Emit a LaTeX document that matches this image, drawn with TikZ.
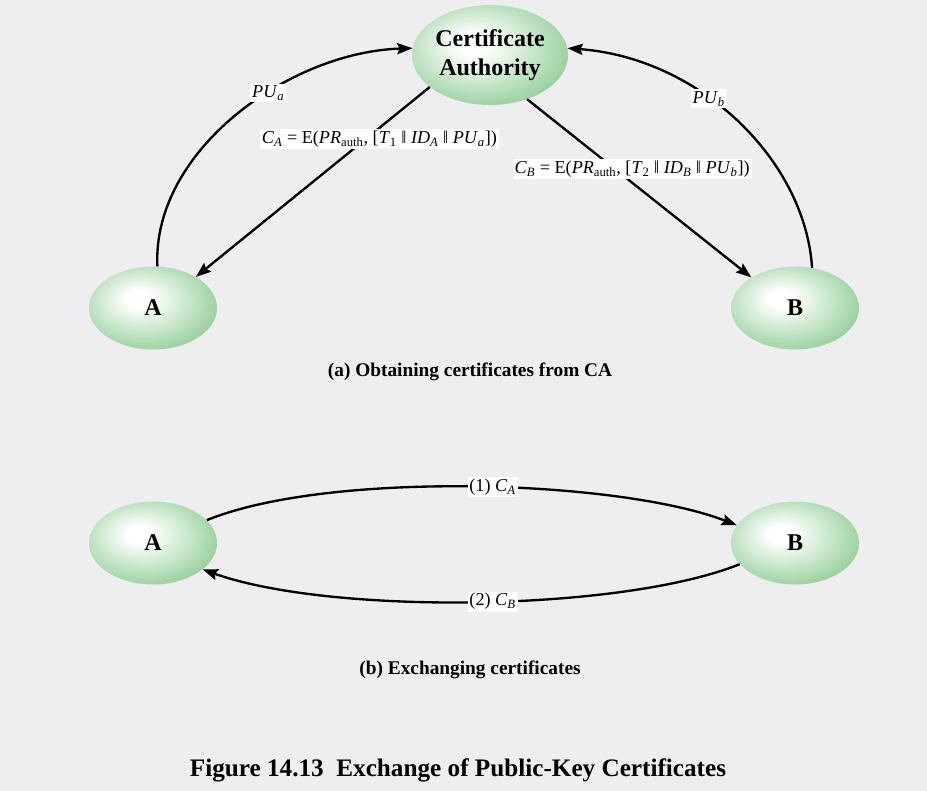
\documentclass[tikz,border=0pt]{standalone}
\usepackage{fontspec}
\setmainfont{Liberation Serif}
\usetikzlibrary{shapes.geometric,arrows.meta}
\definecolor{bggray}{RGB}{238,238,241}
\definecolor{bgreen}{RGB}{150,208,155}
\pgfdeclareradialshading{bubble}{\pgfpoint{-6bp}{6bp}}{color(0bp)=(white); color(5bp)=(white); color(30bp)=(bgreen); color(60bp)=(bgreen)}
\tikzset{
  party/.style={ellipse, shading=bubble, draw=none, inner sep=0pt,
    minimum width=3.84cm, minimum height=2.49cm,
    font=\fontsize{20.5}{22}\selectfont\bfseries},
  conn/.style={line width=2pt, -{Stealth[length=13pt,width=9.5pt,inset=2pt]}},
  lbl/.style={fill=white, inner sep=1.5pt, font=\fontsize{15.5}{17}\selectfont},
  capt/.style={font=\fontsize{16.5}{18}\selectfont\bfseries},
}
\begin{document}
\begin{tikzpicture}[x=0.03cm,y=-0.03cm]
\fill[bggray] (0,0) rectangle (927,791);
\useasboundingbox (0,0) rectangle (927,791);
\node[party, minimum width=4.68cm, minimum height=3.0cm, align=center,
  font=\fontsize{20.5}{22.5}\selectfont\bfseries] (ca) at (490,55) {Certificate\\[2pt]Authority};
\node[party] (a1) at (153,308) {A};
\node[party] (b1) at (795,308) {B};
\node[party] (a2) at (153,543) {A};
\node[party] (b2) at (795,543) {B};

% (a)
\draw[conn] (a1.84) .. controls (152,150) and (290,52) .. (ca.175)
  node[lbl, pos=0.6] {\textit{PU}\textsubscript{\textit{a}}};
\draw[conn] (b1.67) .. controls (805,160) and (700,58) .. (ca.5)
  node[lbl, pos=0.6] {\textit{PU}\textsubscript{\textit{b}}};
\draw[conn] (ca.208) -- (a1.36)
  node[lbl, pos=0.275, xshift=0.42cm] {\textit{C}\textsubscript{\textit{A}} = E(\textit{PR}\textsubscript{auth}, [\textit{T}\textsubscript{1} ‖ \textit{ID}\textsubscript{\textit{A}} ‖ \textit{PU}\textsubscript{\textit{a}}])};
\draw[conn] (ca.-50) -- (b1.145)
  node[lbl, pos=0.393, xshift=0.51cm] {\textit{C}\textsubscript{\textit{B}} = E(\textit{PR}\textsubscript{auth}, [\textit{T}\textsubscript{2} ‖ \textit{ID}\textsubscript{\textit{B}} ‖ \textit{PU}\textsubscript{\textit{b}}])};
\node[capt] (cap1) at (470,372) {(a) Obtaining certificates from CA};

% (b)
\draw[conn] (a2.23) .. controls (330,470) and (620,480) .. (b2.163)
  node[lbl, pos=0.53] {(1) \textit{C}\textsubscript{\textit{A}}};
\draw[conn] (b2.201) .. controls (620,612) and (330,615) .. (a2.-28)
  node[lbl, pos=0.47] {(2) \textit{C}\textsubscript{\textit{B}}};
\node[capt] (cap2) at (470,670) {(b) Exchanging certificates};

\node[font=\fontsize{21.5}{23}\selectfont\bfseries] (title) at (458,770) {Figure 14.13\ \ Exchange of Public-Key Certificates};
\end{tikzpicture}
\end{document}
